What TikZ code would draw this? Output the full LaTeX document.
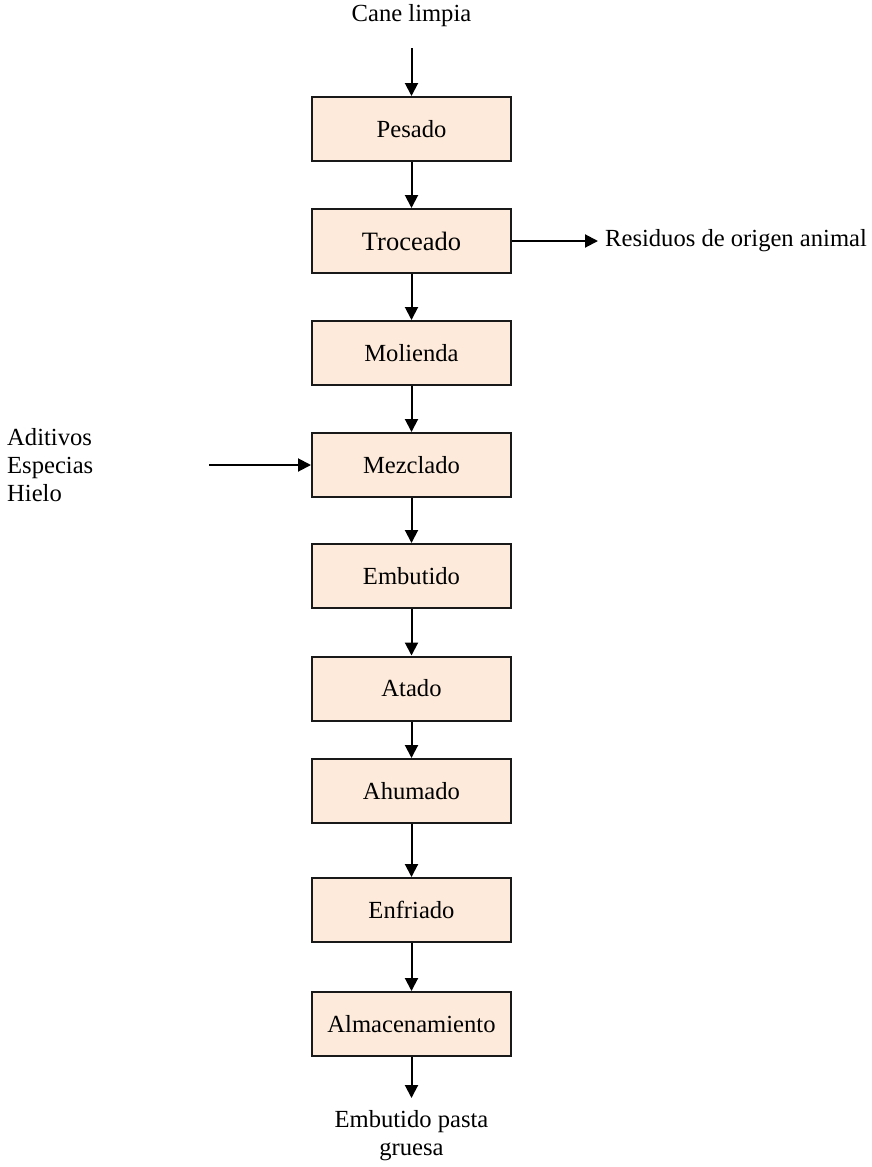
\documentclass[tikz,border=0pt]{standalone}
\usepackage{fontspec}
\setmainfont{Liberation Serif}
\usetikzlibrary{arrows.meta}
\definecolor{boxfill}{RGB}{253,234,218}
\tikzset{
  stepbox/.style={draw=black!90, line width=2pt, fill=boxfill, minimum width=199pt,
    minimum height=64pt, inner sep=0pt, font=\fontsize{24.6}{29}\selectfont},
  lbl/.style={inner sep=0pt, font=\fontsize{24.6}{28}\selectfont},
  flow/.style={line width=2pt, -{Triangle[length=13pt,width=13pt]}}
}
\begin{document}
\begin{tikzpicture}[x=1pt, y=-1pt]
\useasboundingbox (0,0) rectangle (871,1167);

% process chain
\node[stepbox] (pes) at (411.5,129) {Pesado};
\node[stepbox, font=\fontsize{26.5}{31}\selectfont] (tro) at (411.5,241) {Troceado};
\node[stepbox] (mol) at (411.5,353) {Molienda};
\node[stepbox] (mez) at (411.5,465) {Mezclado};
\node[stepbox] (emb) at (411.5,576) {Embutido};
\node[stepbox] (ata) at (411.5,688.5) {Atado};
\node[stepbox] (ahu) at (411.5,791) {Ahumado};
\node[stepbox] (enf) at (411.5,910) {Enfriado};
\node[stepbox] (alm) at (411.5,1024) {Almacenamiento};

% inputs and outputs
\node[lbl] (cane) at (411.5,16) {Cane limpia};
\coordinate (caneend) at (411.5,48);
\node[lbl, anchor=west] (res) at (605,241) {Residuos de origen animal};
\node[lbl, anchor=west, align=left] (adi) at (7,465) {Aditivos\\Especias\\Hielo};
\coordinate (adiend) at (209,465);
\coordinate (almend) at (411.5,1098);
\node[lbl, align=center] (prod) at (411.5,1136) {Embutido pasta\\gruesa};

% connectors
\draw[flow] (caneend) -- (pes);
\draw[flow] (pes) -- (tro);
\draw[flow] (tro) -- (mol);
\draw[flow] (mol) -- (mez);
\draw[flow] (mez) -- (emb);
\draw[flow] (emb) -- (ata);
\draw[flow] (ata) -- (ahu);
\draw[flow] (ahu) -- (enf);
\draw[flow] (enf) -- (alm);
\draw[flow] (alm) -- (almend);
\draw[flow] (tro.east) -- ([xshift=-7pt]res.west);
\draw[flow] (adiend) -- (mez.west);
\end{tikzpicture}
\end{document}
